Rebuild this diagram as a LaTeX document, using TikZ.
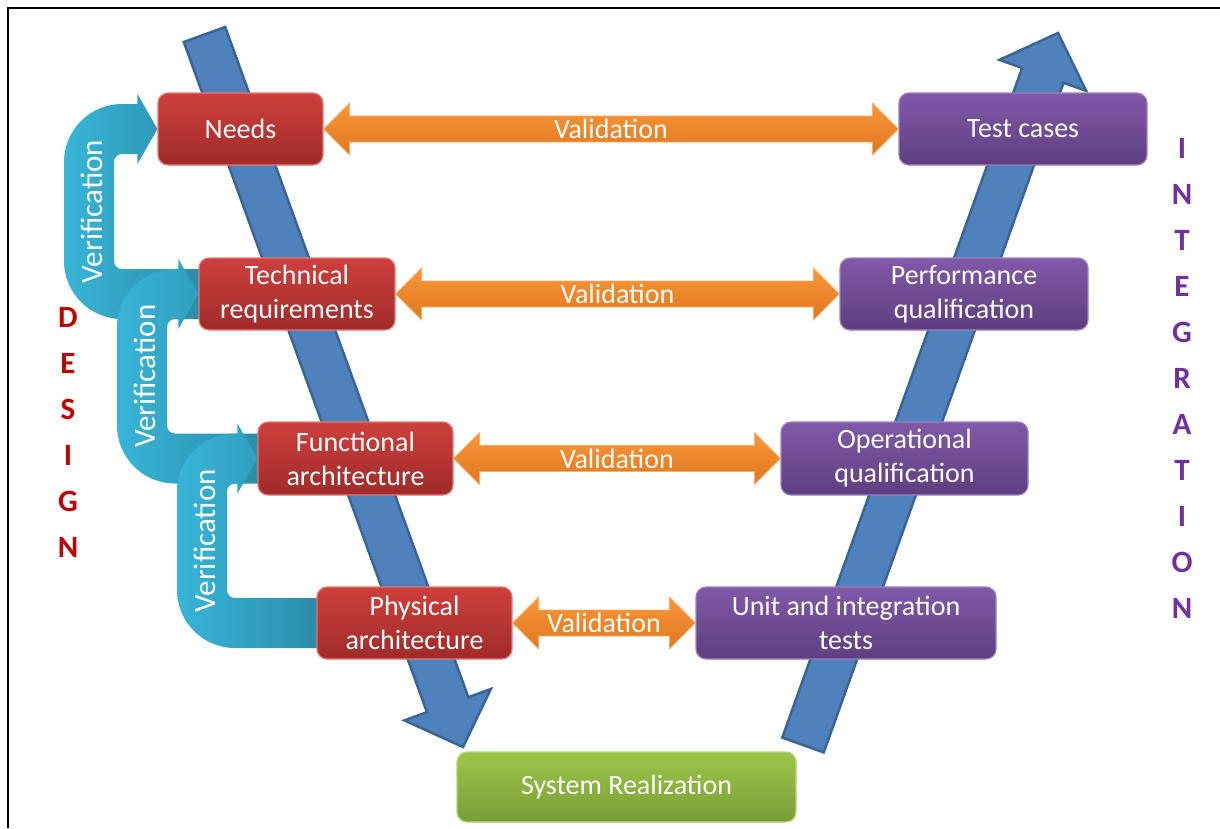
\documentclass[tikz,border=0pt]{standalone}
\usepackage{fontspec}
\setmainfont{Carlito}
\usetikzlibrary{calc}

\definecolor{redtop}{HTML}{CD403C}
\definecolor{redbot}{HTML}{A02B2A}
\definecolor{redline}{HTML}{E47A76}
\definecolor{purtop}{HTML}{8059A8}
\definecolor{purbot}{HTML}{5E3E80}
\definecolor{purline}{HTML}{9C82BF}
\definecolor{gretop}{HTML}{9DC548}
\definecolor{grebot}{HTML}{789F38}
\definecolor{greline}{HTML}{B5D57E}
\definecolor{oratop}{HTML}{F9973A}
\definecolor{orabot}{HTML}{E0771E}
\definecolor{oraline}{HTML}{FAB06A}
\definecolor{cyanlight}{HTML}{38B5D8}
\definecolor{cyandark}{HTML}{2A8BA6}
\definecolor{bluefill}{HTML}{4F81BD}
\definecolor{blueline}{HTML}{3A6494}
\definecolor{designred}{HTML}{C00000}
\definecolor{integpurple}{HTML}{7030A0}

\newcommand{\boxfont}{\fontsize{28}{34}\selectfont}
\newcommand{\verfont}{\fontsize{31}{36}\selectfont}
\newcommand{\letterfont}{\fontsize{31}{36}\selectfont\bfseries}

\pgfdeclarelayer{back}
\pgfsetlayers{back,main}

% double arrow between two boxes: #1 left box, #2 right box, #3 label name
\newcommand{\valarrow}[3]{%
  \path[valarr] (#1.east) -- ++(26,26) -- ++(0,-13) -- ($(#2.west)+(-26,13)$) -- ++(0,13)
    -- (#2.west) -- ++(-26,-26) -- ++(0,13) -- ($(#1.east)+(26,-13)$) -- ++(0,-13) -- cycle;
  \node[vallabel] (#3) at ($(#1.east)!.5!(#2.west)$) {Validation};}

% bent arrow: #1 upper box, #2 lower box, #3 x of the bend, #4 label name
\newcommand{\verarrow}[4]{%
  \path[verarr] let \p1=(#1.west), \p2=(#2.west) in
    (\p1) -- (\x1-20,\y1-35) -- (\x1-20,\y1-25) -- (#3+33,\y1-25)
    arc[start angle=90,end angle=180,radius=8] -- (#3+25,\y2+33)
    arc[start angle=180,end angle=270,radius=8] -- (\x2+10,\y2+25) -- (\x2+10,\y2-25)
    -- (#3+33,\y2-25) arc[start angle=270,end angle=180,radius=58] -- (#3-25,\y1-33)
    arc[start angle=180,end angle=90,radius=58] -- (\x1-20,\y1+25) -- (\x1-20,\y1+35) -- cycle;
  \path let \p1=(#1.west), \p2=(#2.west) in
    node[verlabel] (#4) at (#3+3,{(\y1+\y2)/2}) {Verification};}

% wide straight arrow: #1 tail, #2 tip
\newcommand{\bigarrow}[2]{%
  \path[bigarr] ($(#1)!22pt!90:(#2)$) -- ($(#2)!45pt!(#1)!22pt!90:(#2)$)
    -- ($(#2)!45pt!(#1)!46pt!90:(#2)$) -- (#2) -- ($(#2)!45pt!(#1)!46pt!-90:(#2)$)
    -- ($(#2)!45pt!(#1)!22pt!-90:(#2)$) -- ($(#1)!22pt!-90:(#2)$) -- cycle;}

\begin{document}
\begin{tikzpicture}[x=1pt,y=1pt,
    redbox/.style={rounded corners=10,draw=redline,line width=1.2,top color=redtop,bottom color=redbot,
      text=white,align=center,font=\boxfont,minimum height=72,inner sep=0},
    purbox/.style={redbox,draw=purline,top color=purtop,bottom color=purbot},
    grebox/.style={redbox,draw=greline,top color=gretop,bottom color=grebot},
    valarr/.style={top color=oratop,bottom color=orabot,draw=oraline,line width=0.8},
    vallabel/.style={text=white,font=\boxfont,inner sep=0},
    verarr/.style={left color=cyanlight,right color=cyandark},
    verlabel/.style={text=white,rotate=90,font=\verfont,inner sep=0},
    bigarr/.style={fill=bluefill,draw=blueline,line width=2.5,line join=miter},
    desletter/.style={text=designred,font=\letterfont},
    intletter/.style={text=integpurple,font=\letterfont}]
    \useasboundingbox (0,0) rectangle (1220,-828);
    % Boxes ====================================================
    \node[redbox,minimum width=165]                   (Needs) at (240.5,-129) {Needs};
    \node[redbox,minimum width=196]                   (Tech)  at (297,-294)   {Technical\\requirements};
    \node[redbox,minimum width=195,minimum height=73] (Func)  at (355.5,-458.5) {Functional\\architecture};
    \node[redbox,minimum width=195]                   (Phys)  at (414.5,-623) {Physical\\architecture};
    \node[purbox,minimum width=248]                   (Test)  at (1023,-129)  {Test cases};
    \node[purbox,minimum width=248]                   (Perf)  at (964,-294)   {Performance\\qualification};
    \node[purbox,minimum width=247,minimum height=73] (Oper)  at (904.5,-458.5) {Operational\\qualification};
    \node[purbox,minimum width=300]                   (Unit)  at (846,-623)   {Unit and integration\\tests};
    \node[grebox,minimum width=339,minimum height=70] (Sys)   at (626.5,-787) {System Realization};
    % Behind the boxes =========================================
    \begin{pgfonlayer}{back}
    \fill[white] (0,0) rectangle (1220,-828);
    \draw[line width=2.5] (8,-828) -- (8,-8) -- (1220,-8);
    \coordinate (downtail) at (204.5,-34.5); \coordinate (downtip) at (463,-747);
    \coordinate (uptail)   at (803,-745);    \coordinate (uptip)   at (1058,-33);
    \bigarrow{downtail}{downtip}
    \bigarrow{uptail}{uptip}
    % Verification
    \verarrow{Needs}{Tech}{89}{ver1}
    \verarrow{Tech}{Func}{142}{ver2}
    \verarrow{Func}{Phys}{202}{ver3}
    \end{pgfonlayer}
    % Validation ===============================================
    \valarrow{Needs}{Test}{val1}
    \valarrow{Tech}{Perf}{val2}
    \valarrow{Func}{Oper}{val3}
    \valarrow{Phys}{Unit}{val4}
    % Side letters =============================================
    \node[desletter] (des1) at (68,-317) {D}; \node[desletter] (des2) at (68,-363) {E};
    \node[desletter] (des3) at (68,-409) {S}; \node[desletter] (des4) at (68,-455) {I};
    \node[desletter] (des5) at (68,-501) {G}; \node[desletter] (des6) at (68,-547) {N};
    \node[intletter] (int1)  at (1182,-148) {I}; \node[intletter] (int2)  at (1182,-194) {N};
    \node[intletter] (int3)  at (1182,-240) {T}; \node[intletter] (int4)  at (1182,-286) {E};
    \node[intletter] (int5)  at (1182,-332) {G}; \node[intletter] (int6)  at (1182,-378) {R};
    \node[intletter] (int7)  at (1182,-424) {A}; \node[intletter] (int8)  at (1182,-470) {T};
    \node[intletter] (int9)  at (1182,-516) {I}; \node[intletter] (int10) at (1182,-562) {O};
    \node[intletter] (int11) at (1182,-608) {N};
\end{tikzpicture}
\end{document}
